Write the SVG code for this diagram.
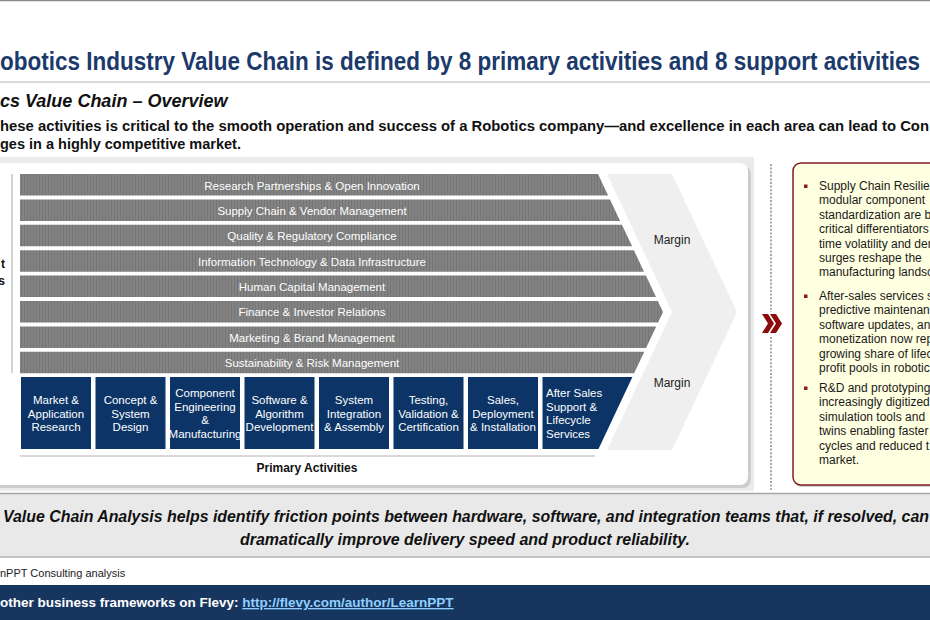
<svg xmlns="http://www.w3.org/2000/svg" width="930" height="620" viewBox="0 0 930 620">
<defs>
<pattern id="hatch" width="3" height="3" patternUnits="userSpaceOnUse"><rect width="3" height="3" fill="#838383"/><rect width="1" height="3" fill="#757575"/></pattern>
<style>
.f{font-family:"Liberation Sans",Arial,Helvetica,sans-serif}
.bar{fill:url(#hatch)}
.bt{font-family:"Liberation Sans",Arial,sans-serif;font-size:11.5px;fill:#ffffff;text-anchor:middle}
.pb{fill:#0C3466}
.pt{font-family:"Liberation Sans",Arial,sans-serif;font-size:11.5px;fill:#ffffff;text-anchor:middle}
.pl{font-family:"Liberation Sans",Arial,sans-serif;font-size:11.5px;fill:#ffffff}
.rt{font-family:"Liberation Sans",Arial,sans-serif;font-size:12px;fill:#1a1a1a}
.bul{fill:#8B1A1A}
.mg{font-family:"Liberation Sans",Arial,sans-serif;font-size:12px;fill:#222222;text-anchor:middle}
</style>
</defs>
<rect x="0" y="0" width="930" height="620" fill="#ffffff"/>
<line x1="0" y1="0.5" x2="930" y2="0.5" stroke="#8a8a8a" stroke-width="1.5"/>

<g id="header">
<text class="f" x="0" y="70" font-size="25" font-weight="bold" fill="#1B3A6B" textLength="920" lengthAdjust="spacingAndGlyphs">obotics Industry Value Chain is defined by 8 primary activities and 8 support activities</text>
<line x1="0" y1="82" x2="930" y2="82" stroke="#cccccc" stroke-width="1.5"/>
<text class="f" x="0" y="107" font-size="18" font-weight="bold" font-style="italic" fill="#111111">cs Value Chain – Overview</text>
<text class="f" x="0" y="131" font-size="14.5" font-weight="bold" fill="#111111" textLength="929" lengthAdjust="spacingAndGlyphs">hese activities is critical to the smooth operation and success of a Robotics company—and excellence in each area can lead to Con</text>
<text class="f" x="0" y="149" font-size="14.5" font-weight="bold" fill="#111111">ges in a highly competitive market.</text>
</g>

<g id="panel">
<rect x="-10" y="157" width="764" height="334" fill="#ebebeb"/>
<rect x="-17" y="166" width="768" height="322" rx="8" fill="#cdcdcd"/>
<rect x="-20" y="163" width="768" height="322" rx="8" fill="#ffffff"/>
<line x1="12" y1="174" x2="12" y2="373" stroke="#d3d3d3" stroke-width="2"/>
<text class="f" x="5" y="268" font-size="12" font-weight="bold" fill="#111111" text-anchor="end">t</text>
<text class="f" x="5" y="285" font-size="12" font-weight="bold" fill="#111111" text-anchor="end">s</text>
</g>

<g id="margin">
<polygon points="607,174 672,174 737,312 672,450 607,450 672,312" fill="#efefef"/>
<text class="mg" x="672" y="244">Margin</text>
<text class="mg" x="672" y="387">Margin</text>
</g>

<g id="support-1"><polygon class="bar" points="20,174 598,174 608.1,195.5 20,195.5"/><text class="bt" x="312" y="189.5">Research Partnerships &amp; Open Innovation</text></g>
<g id="support-2"><polygon class="bar" points="20,199.4 610,199.4 620.1,220.9 20,220.9"/><text class="bt" x="312" y="214.5">Supply Chain &amp; Vendor Management</text></g>
<g id="support-3"><polygon class="bar" points="20,224.8 621.9,224.8 632.1,246.3 20,246.3"/><text class="bt" x="312" y="240">Quality &amp; Regulatory Compliance</text></g>
<g id="support-4"><polygon class="bar" points="20,250.2 633.9,250.2 644,271.7 20,271.7"/><text class="bt" x="312" y="265.5">Information Technology &amp; Data Infrastructure</text></g>
<g id="support-5"><polygon class="bar" points="20,275.6 645.9,275.6 656,297.1 20,297.1"/><text class="bt" x="312" y="290.5">Human Capital Management</text></g>
<g id="support-6"><polygon class="bar" points="20,301 657.8,301 663,312 658.1,322.5 20,322.5"/><text class="bt" x="312" y="316">Finance &amp; Investor Relations</text></g>
<g id="support-7"><polygon class="bar" points="20,326.4 656.2,326.4 646.1,347.9 20,347.9"/><text class="bt" x="312" y="341.5">Marketing &amp; Brand Management</text></g>
<g id="support-8"><polygon class="bar" points="20,351.8 644.3,351.8 634.1,373.3 20,373.3"/><text class="bt" x="312" y="367">Sustainability &amp; Risk Management</text></g>

<g id="primary-1"><rect class="pb" x="21" y="377" width="70" height="72"/><text class="pt" x="56" y="404">Market &amp;</text><text class="pt" x="56" y="417.5">Application</text><text class="pt" x="56" y="431">Research</text></g>
<g id="primary-2"><rect class="pb" x="95.5" y="377" width="70" height="72"/><text class="pt" x="130.5" y="404">Concept &amp;</text><text class="pt" x="130.5" y="417.5">System</text><text class="pt" x="130.5" y="431">Design</text></g>
<g id="primary-3"><rect class="pb" x="170" y="377" width="70" height="72"/><text class="pt" x="205" y="397">Component</text><text class="pt" x="205" y="410.5">Engineering</text><text class="pt" x="205" y="424">&amp;</text><text class="pt" x="205" y="437.5">Manufacturing</text></g>
<g id="primary-4"><rect class="pb" x="244.5" y="377" width="70" height="72"/><text class="pt" x="279.5" y="404">Software &amp;</text><text class="pt" x="279.5" y="417.5">Algorithm</text><text class="pt" x="279.5" y="431">Development</text></g>
<g id="primary-5"><rect class="pb" x="319" y="377" width="70" height="72"/><text class="pt" x="354" y="404">System</text><text class="pt" x="354" y="417.5">Integration</text><text class="pt" x="354" y="431">&amp; Assembly</text></g>
<g id="primary-6"><rect class="pb" x="393.5" y="377" width="70" height="72"/><text class="pt" x="428.5" y="404">Testing,</text><text class="pt" x="428.5" y="417.5">Validation &amp;</text><text class="pt" x="428.5" y="431">Certification</text></g>
<g id="primary-7"><rect class="pb" x="468" y="377" width="70" height="72"/><text class="pt" x="503" y="404">Sales,</text><text class="pt" x="503" y="417.5">Deployment</text><text class="pt" x="503" y="431">&amp; Installation</text></g>
<g id="primary-8"><polygon class="pb" points="542.5,377 632.4,377 598.5,449 542.5,449"/><text class="pl" x="546" y="397">After Sales</text><text class="pl" x="546" y="410.5">Support &amp;</text><text class="pl" x="546" y="424">Lifecycle</text><text class="pl" x="546" y="437.5">Services</text></g>

<g id="primary-label">
<line x1="20" y1="456" x2="595" y2="456" stroke="#d9d9d9" stroke-width="2"/>
<text class="f" x="307" y="472" font-size="12" font-weight="bold" fill="#111111" text-anchor="middle">Primary Activities</text>
</g>

<g id="connectors">
<line x1="771" y1="164" x2="771" y2="312" stroke="#a8a8a8" stroke-width="2" stroke-dasharray="2 1.6"/>
<line x1="771" y1="337" x2="771" y2="490" stroke="#a8a8a8" stroke-width="2" stroke-dasharray="2 1.6"/>
<polygon points="762,314 768,314 774,323.5 768,333 762,333 768,323.5" fill="#8B0A0A"/>
<polygon points="770,314 776,314 782,323.5 776,333 770,333 776,323.5" fill="#8B0A0A"/>
</g>

<g id="insights">
<rect x="794" y="165" width="150" height="322" rx="8" fill="#cfcfcf"/>
<rect x="793" y="163" width="150" height="322" rx="8" fill="#FFFFE1" stroke="#7F1F1F" stroke-width="1.5"/>
<rect class="bul" x="804" y="184.5" width="3.5" height="3.5"/>
<text class="rt" x="819" y="190">Supply Chain Resilie</text>
<text class="rt" x="819" y="204.4">modular component</text>
<text class="rt" x="819" y="218.8">standardization are b</text>
<text class="rt" x="819" y="233.2">critical differentiators</text>
<text class="rt" x="819" y="247.6">time volatility and der</text>
<text class="rt" x="819" y="262">surges reshape the</text>
<text class="rt" x="819" y="276.4">manufacturing landsc</text>
<rect class="bul" x="804" y="294.5" width="3.5" height="3.5"/>
<text class="rt" x="819" y="300">After-sales services s</text>
<text class="rt" x="819" y="314.4">predictive maintenan</text>
<text class="rt" x="819" y="328.8">software updates, an</text>
<text class="rt" x="819" y="343.2">monetization now rep</text>
<text class="rt" x="819" y="357.6">growing share of lifec</text>
<text class="rt" x="819" y="372">profit pools in robotic</text>
<rect class="bul" x="804" y="386.5" width="3.5" height="3.5"/>
<text class="rt" x="819" y="392">R&amp;D and prototyping</text>
<text class="rt" x="819" y="406.4">increasingly digitized</text>
<text class="rt" x="819" y="420.8">simulation tools and</text>
<text class="rt" x="819" y="435.2">twins enabling faster</text>
<text class="rt" x="819" y="449.6">cycles and reduced t</text>
<text class="rt" x="819" y="464">market.</text>
</g>

<g id="takeaway">
<rect x="0" y="493" width="930" height="64" fill="#e9e9e9"/>
<line x1="0" y1="493.5" x2="930" y2="493.5" stroke="#a6a6a6" stroke-width="1.5"/>
<line x1="0" y1="557" x2="930" y2="557" stroke="#b5b5b5" stroke-width="1.5"/>
<text class="f" x="3" y="522" font-size="16" font-weight="bold" font-style="italic" fill="#111111" textLength="926" lengthAdjust="spacingAndGlyphs">Value Chain Analysis helps identify friction points between hardware, software, and integration teams that, if resolved, can</text>
<text class="f" x="465" y="545" font-size="16" font-weight="bold" font-style="italic" fill="#111111" text-anchor="middle" textLength="450" lengthAdjust="spacingAndGlyphs">dramatically improve delivery speed and product reliability.</text>
</g>

<g id="footer">
<text class="f" x="0" y="577" font-size="11" fill="#222222">nPPT Consulting analysis</text>
<rect x="0" y="585" width="930" height="35" fill="#17365F"/>
<text class="f" x="0" y="607" font-size="13.5" font-weight="bold" fill="#ffffff">other business frameworks on Flevy: <tspan fill="#8FD0FF" text-decoration="underline">http://flevy.com/author/LearnPPT</tspan></text>
</g>
</svg>
